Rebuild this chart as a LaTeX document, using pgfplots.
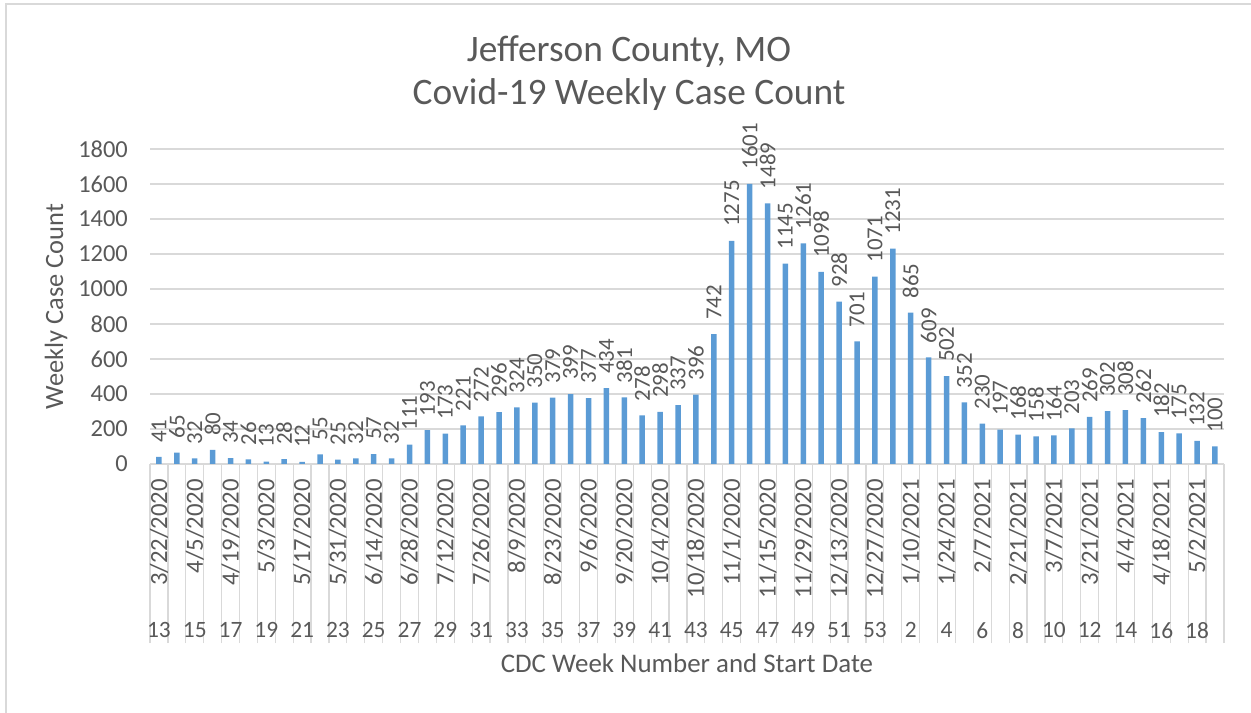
\documentclass[border=0pt]{standalone}
\usepackage{pgfplots}
\pgfplotsset{compat=1.18}
\usepackage{fontspec}
\setmainfont{Carlito}
\definecolor{txt}{HTML}{595959}
\definecolor{grd}{HTML}{D9D9D9}
\definecolor{barc}{HTML}{5B9BD5}
\newcommand{\R}[1]{\rotatebox{90}{#1}}
\begin{document}
\begin{tikzpicture}[x=1bp,y=1bp]
\useasboundingbox (0,0) rectangle (1251,713);
\draw[grd, line width=1.2bp] (6,0) -- (6,709) -- (1251,709);
\node[font=\fontsize{37.5}{43}\selectfont, text=txt, anchor=base] at (629,651) {Jefferson County, MO};
\node[font=\fontsize{37.5}{43}\selectfont, text=txt, anchor=base] at (629,608) {Covid-19 Weekly Case Count};
\begin{axis}[
  at={(150bp,249bp)}, anchor=south west, scale only axis,
  width=1074bp, height=315bp,
  xmin=-0.5, xmax=59.5, ymin=0, ymax=1800,
  clip=false,
  ybar, bar width=5.5bp,
  /pgf/number format/assume math mode=true,
  /pgf/number format/1000 sep={},
  axis line style={draw=none},
  major tick length=0pt,
  major tick style={draw=none},
  ytick={0,200,...,1800},
  ymajorgrids,
  major grid style={draw=grd, line width=1.2bp},
  yticklabel style={font=\fontsize{24.5}{28}\selectfont, text=txt, inner xsep=0pt, xshift=-22bp},
  xtick={0,2,...,58},
  xticklabels={\R{3/22/2020},\R{4/5/2020},\R{4/19/2020},\R{5/3/2020},\R{5/17/2020},\R{5/31/2020},\R{6/14/2020},\R{6/28/2020},\R{7/12/2020},\R{7/26/2020},\R{8/9/2020},\R{8/23/2020},\R{9/6/2020},\R{9/20/2020},\R{10/4/2020},\R{10/18/2020},\R{11/1/2020},\R{11/15/2020},\R{11/29/2020},\R{12/13/2020},\R{12/27/2020},\R{1/10/2021},\R{1/24/2021},\R{2/7/2021},\R{2/21/2021},\R{3/7/2021},\R{3/21/2021},\R{4/4/2021},\R{4/18/2021},\R{5/2/2021}},
  xticklabel style={font=\fontsize{24.8}{28}\selectfont, text=txt, anchor=north, inner ysep=0pt, yshift=-15bp},
  extra x ticks={0,2,...,58},
  extra x tick labels={13,15,17,19,21,23,25,27,29,31,33,35,37,39,41,43,45,47,49,51,53,2,4,6,8,10,12,14,16,18},
  extra x tick style={xticklabel style={font=\fontsize{23.5}{27}\selectfont, yshift=-143bp}},
  minor xtick={-0.5,0.5,...,59.5},
  xtick pos=left,
  tick align=outside,
  minor tick length=179bp,
  minor x tick style={draw=grd, line width=1.2bp},
  xlabel={CDC Week Number and Start Date},
  xlabel style={font=\fontsize{27}{31}\selectfont, text=txt, at={(axis description cs:0.5,-0.6635)}, anchor=base},
  ylabel={Weekly Case Count},
  ylabel style={font=\fontsize{26.5}{31}\selectfont, text=txt, at={(axis description cs:-0.081,0.5)}, anchor=base},
  nodes near coords,
  every node near coord/.append style={rotate=90, anchor=west, font=\fontsize{23}{27}\selectfont, text=txt, inner xsep=14bp, inner ysep=0pt},
]
\addplot[fill=barc, draw=none] coordinates {
(0,41) (1,65) (2,32) (3,80) (4,34) (5,26) (6,13) (7,28) (8,12) (9,55)
(10,25) (11,32) (12,57) (13,32) (14,111) (15,193) (16,173) (17,221) (18,272) (19,296)
(20,324) (21,350) (22,379) (23,399) (24,377) (25,434) (26,381) (27,278) (28,298) (29,337)
(30,396) (31,742) (32,1275) (33,1601) (34,1489) (35,1145) (36,1261) (37,1098) (38,928) (39,701)
(40,1071) (41,1231) (42,865) (43,609) (44,502) (45,352) (46,230) (47,197) (48,168) (49,158)
(50,164) (51,203) (52,269) (53,302) (54,308) (55,262) (56,182) (57,175) (58,132) (59,100)
};
\end{axis}
\end{tikzpicture}
\end{document}
